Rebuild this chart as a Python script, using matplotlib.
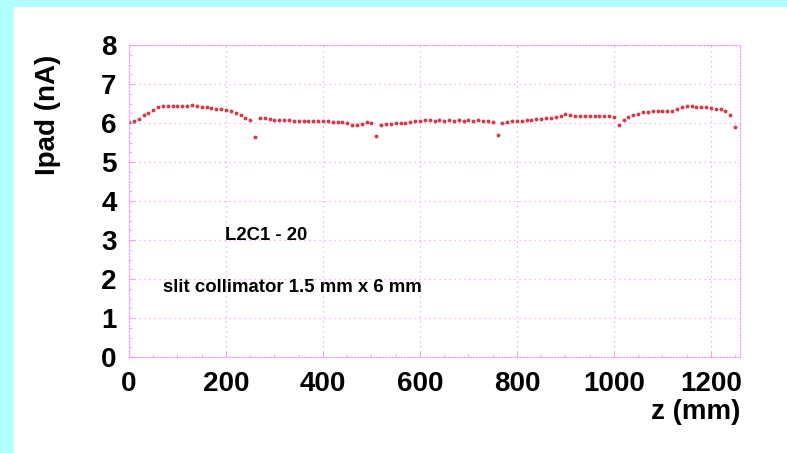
import matplotlib
matplotlib.use("Agg")
import matplotlib.pyplot as plt
import numpy as np
from matplotlib.patches import Rectangle

plt.rcParams['font.family'] = ['Liberation Sans Narrow', 'Liberation Sans', 'DejaVu Sans']

z_mm = list(range(0, 1260, 10))
ipad_nA = [
    6.02, 6.05, 6.10, 6.20, 6.25, 6.33, 6.40, 6.44, 6.43, 6.44,
    6.43, 6.44, 6.44, 6.45, 6.43, 6.42, 6.40, 6.38, 6.37, 6.35,
    6.33, 6.30, 6.26, 6.20, 6.12, 6.08, 5.65, 6.14, 6.12, 6.10,
    6.08, 6.08, 6.07, 6.07, 6.06, 6.06, 6.06, 6.05, 6.05, 6.05,
    6.04, 6.04, 6.03, 6.03, 6.02, 6.00, 5.96, 5.94, 5.97, 6.03,
    6.01, 5.66, 5.96, 5.97, 5.98, 5.99, 6.00, 6.01, 6.03, 6.04,
    6.06, 6.08, 6.07, 6.06, 6.07, 6.06, 6.07, 6.06, 6.07, 6.06,
    6.07, 6.06, 6.07, 6.06, 6.05, 6.03, 5.70, 5.99, 6.02, 6.04,
    6.05, 6.06, 6.07, 6.08, 6.10, 6.11, 6.12, 6.13, 6.15, 6.18,
    6.22, 6.21, 6.19, 6.18, 6.18, 6.17, 6.18, 6.19, 6.18, 6.17,
    6.15, 5.94, 6.08, 6.16, 6.20, 6.24, 6.27, 6.29, 6.31, 6.32,
    6.31, 6.30, 6.32, 6.36, 6.42, 6.44, 6.43, 6.42, 6.41, 6.40,
    6.38, 6.37, 6.35, 6.30, 6.20, 5.90,
]
x_ticks = [0, 200, 400, 600, 800, 1000, 1200]
y_ticks = [0, 1, 2, 3, 4, 5, 6, 7, 8]
label_text = "L2C1 - 20"
collimator_text = "slit collimator 1.5 mm x 6 mm"

W, H = 787, 453
fig = plt.figure(figsize=(W / 100, H / 100), dpi=100)
fig.patch.set_facecolor('#b3ffff')
fig.patches.append(Rectangle((14 / W, 0), 1 - 14 / W, 1 - 7 / H,
                             transform=fig.transFigure, facecolor='white',
                             edgecolor='none', zorder=-10))

ax = fig.add_axes([129 / W, (H - 357) / H, (740 - 129) / W, (357 - 45) / H])
ax.set_zorder(5)
ax.set_facecolor('none')
ax.set_xlim(0, 1260)
ax.set_ylim(0, 8)

gcol = '#eaa6ec'
ax.grid(True, color=gcol, linestyle=(0, (1, 3)), linewidth=0.9)
for s in ax.spines.values():
    s.set_color(gcol)
    s.set_linestyle((0, (1, 1.5)))
    s.set_linewidth(0.9)

ax.plot(z_mm, ipad_nA, linestyle='none', marker='o', markersize=2.8,
        color='#d33a4a', markeredgewidth=0)

ax.set_xticks(x_ticks)
ax.set_yticks(y_ticks)
ax.set_xticks(np.arange(0, 1260, 50), minor=True)
ax.set_yticks(np.arange(0, 8.01, 0.25), minor=True)
ax.tick_params(axis='both', which='major', direction='in', length=4,
               color=gcol, labelsize=20, width=0.8)
ax.tick_params(axis='both', which='minor', direction='in', length=2,
               color=gcol, width=0.6)
ax.tick_params(axis='x', which='major', pad=10)
ax.tick_params(axis='y', which='major', pad=9)
for lab in ax.get_xticklabels() + ax.get_yticklabels():
    lab.set_fontweight('bold')

fig.text(48 / W, 1 - 115 / H, "Ipad (nA)", rotation=90, ha='center',
         va='center', fontsize=20, fontweight='bold')
fig.text(740 / W, 1 - 412 / H, "z (mm)", ha='right', va='center',
         fontsize=20, fontweight='bold')

ax.text(198, 3.12, label_text, ha='left',
        va='center', fontsize=13.3, fontweight='bold')
ax.text(70, 1.79, collimator_text, ha='left', va='center',
        fontsize=13.4, fontweight='bold')

fig.savefig('out.png', dpi=100, facecolor=fig.get_facecolor())
